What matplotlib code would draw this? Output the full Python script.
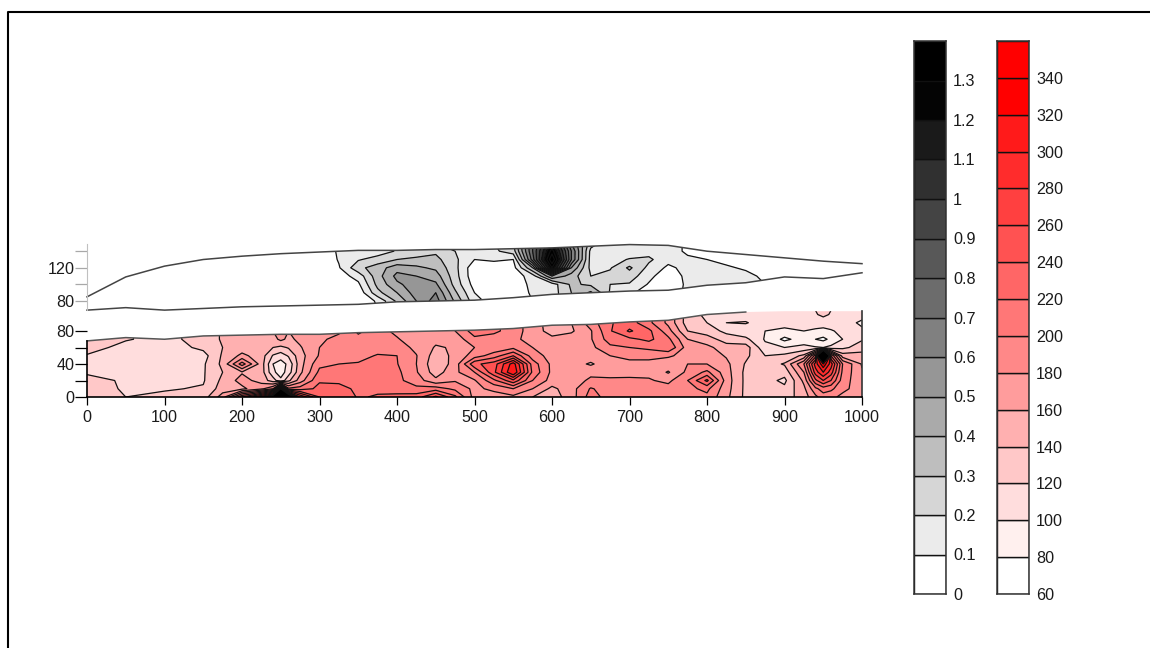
import numpy as np
import matplotlib
matplotlib.use("Agg")
import matplotlib.pyplot as plt
from matplotlib.lines import Line2D
from matplotlib.patches import Polygon

plt.rcParams['font.family'] = ['Liberation Sans', 'DejaVu Sans']

boundary_x = [0, 50, 100, 150, 200, 250, 300, 350, 400, 450, 500, 550, 600, 650, 700, 750, 800, 850, 900, 950, 1000]
lower_top_y = [68, 72, 70, 74, 75, 76, 76, 78, 79, 80, 81, 83, 87, 88, 91, 93, 100, 103, 104, 104, 104]
upper_top_y = [85, 109, 122, 130, 134, 137, 139, 141, 141, 142, 142, 143, 144, 146, 148, 147, 140, 136, 132, 128, 125]
upper_bottom_y = [69, 72, 69, 71, 73, 74, 75, 76, 79, 80, 81, 84, 88, 90, 92, 93, 99, 102, 109, 107, 114]

lower_stations = [0, 50, 100, 150, 175, 200, 225, 240, 250, 260, 275, 300, 325, 350, 375, 400, 425, 450, 475, 500, 525, 550,
                  575, 600, 625, 650, 675, 700, 725, 750, 775, 800, 825, 850, 875, 900, 925, 940, 950, 960, 975, 1000]
lower_rows = [0, 10, 20, 30, 40, 50, 60, 70, 80, 90, 100, 110]
lower_values = [
    [130, 128, 125, 118, 112, 118, 130, 142, 130, 130, 130, 130],
    [120, 118, 118, 112, 110, 108, 112, 122, 122, 122, 122, 122],
    [125, 118, 110, 108, 106, 106, 108, 112, 112, 112, 112, 112],
    [130, 122, 118, 118, 117, 112, 125, 130, 130, 130, 130, 130],
    [170, 150, 145, 140, 145, 143, 140, 142, 142, 142, 142, 142],
    [260, 155, 168, 158, 210, 165, 150, 150, 150, 150, 150, 150],
    [330, 175, 152, 150, 150, 150, 152, 155, 155, 155, 155, 155],
    [400, 200, 130, 105, 100, 118, 140, 152, 160, 160, 160, 160],
    [520, 360, 105, 90, 90, 110, 135, 165, 170, 170, 170, 170],
    [430, 205, 135, 110, 105, 122, 142, 155, 160, 160, 160, 160],
    [300, 210, 170, 155, 152, 152, 158, 165, 168, 168, 168, 168],
    [240, 225, 218, 205, 195, 182, 180, 175, 172, 172, 172, 172],
    [235, 228, 215, 208, 200, 195, 190, 188, 175, 175, 175, 175],
    [218, 215, 212, 210, 202, 192, 188, 192, 205, 205, 205, 205],
    [222, 216, 212, 212, 210, 202, 190, 188, 188, 188, 188, 188],
    [225, 212, 205, 205, 201, 200, 190, 182, 175, 175, 175, 175],
    [230, 205, 190, 182, 180, 181, 175, 168, 165, 165, 165, 165],
    [265, 210, 165, 150, 145, 150, 158, 165, 170, 170, 170, 170],
    [225, 195, 178, 175, 168, 165, 162, 168, 180, 180, 180, 180],
    [172, 175, 178, 200, 235, 190, 180, 195, 210, 210, 210, 210],
    [170, 185, 215, 255, 250, 210, 185, 190, 205, 205, 205, 205],
    [175, 200, 255, 320, 310, 240, 195, 185, 190, 190, 190, 190],
    [160, 180, 200, 215, 210, 190, 180, 172, 170, 170, 170, 170],
    [150, 155, 172, 175, 175, 172, 168, 165, 152, 150, 150, 150],
    [170, 172, 172, 170, 170, 170, 170, 170, 157, 160, 160, 160],
    [210, 202, 183, 176, 157, 172, 175, 178, 178, 190, 190, 190],
    [190, 190, 183, 174, 174, 180, 195, 210, 218, 218, 218, 218],
    [190, 190, 183, 175, 175, 185, 200, 215, 243, 230, 230, 230],
    [190, 190, 182, 175, 175, 185, 205, 225, 225, 205, 205, 205],
    [192, 188, 175, 158, 172, 182, 218, 205, 188, 175, 175, 175],
    [200, 195, 200, 185, 180, 175, 170, 160, 140, 130, 130, 130],
    [195, 205, 245, 205, 180, 172, 165, 150, 130, 120, 115, 115],
    [165, 168, 170, 168, 165, 158, 150, 130, 115, 120, 115, 115],
    [135, 135, 135, 135, 138, 145, 150, 125, 105, 122, 108, 108],
    [130, 128, 128, 128, 130, 120, 105, 98, 100, 107, 108, 108],
    [130, 125, 115, 128, 142, 125, 100, 75, 95, 108, 108, 108],
    [150, 155, 165, 180, 200, 145, 105, 90, 100, 108, 110, 110],
    [175, 195, 235, 270, 290, 230, 102, 80, 97, 108, 118, 122],
    [190, 210, 260, 300, 335, 900, 100, 75, 95, 108, 125, 130],
    [185, 205, 240, 270, 290, 240, 105, 85, 98, 110, 118, 122],
    [175, 185, 190, 195, 200, 150, 115, 100, 105, 112, 112, 112],
    [175, 170, 165, 162, 158, 148, 130, 118, 105, 95, 110, 110],
]
lower_levels = [60, 80, 100, 120, 140, 160, 180, 200, 220, 240, 260, 280, 300, 320, 340, 360]
lower_colors = ['#ffffff', '#fff0ee', '#ffdddd', '#ffc8c8', '#ffb0b0', '#ff9c9c', '#ff8888',
                '#ff7777', '#ff6666', '#ff5252', '#ff4040', '#ff2c2c', '#ff1a1a', '#ff0000', '#ff0000']
spike_color = '#000000'

upper_stations = [0, 300, 325, 350, 375, 400, 425, 450, 475, 500, 525, 550, 575, 600, 625, 650, 675, 700, 725, 750,
                  775, 800, 850, 900, 950, 1000]
upper_rows = [70, 80, 90, 100, 110, 120, 130, 140, 150]
upper_values = [
    [0, 0, 0, 0, 0, 0, 0, 0, 0],
    [0, 0, 0, 0, 0, 0, 0, 0, 0],
    [0, 0, 0, 0.02, 0.05, 0.09, 0.11, 0.12, 0.12],
    [0, 0, 0.03, 0.08, 0.14, 0.27, 0.19, 0.15, 0.15],
    [0.1, 0.12, 0.27, 0.33, 0.36, 0.35, 0.24, 0.15, 0.15],
    [0.3, 0.32, 0.4, 0.48, 0.53, 0.46, 0.3, 0.21, 0.2],
    [0.5, 0.5, 0.55, 0.55, 0.5, 0.42, 0.33, 0.22, 0.22],
    [0.65, 0.65, 0.6, 0.52, 0.45, 0.38, 0.33, 0.28, 0.2],
    [0.38, 0.38, 0.32, 0.26, 0.24, 0.23, 0.22, 0.2, 0.15],
    [0.14, 0.14, 0.1, 0.06, 0.03, 0.03, 0.1, 0.13, 0.13],
    [0.05, 0.05, 0.03, 0.02, 0.02, 0.03, 0.12, 0.18, 0.2],
    [0.02, 0.02, 0.02, 0.03, 0.04, 0.06, 0.1, 0.25, 0.3],
    [0.1, 0.1, 0.12, 0.13, 0.15, 0.4, 0.75, 0.8, 0.8],
    [0.13, 0.13, 0.15, 0.15, 0.5, 1.3, 1.5, 1.35, 1.2],
    [0.33, 0.33, 0.3, 0.32, 0.35, 0.5, 0.7, 0.7, 0.6],
    [0.42, 0.42, 0.42, 0.28, 0.2, 0.17, 0.16, 0.17, 0.25],
    [0.19, 0.19, 0.19, 0.2, 0.23, 0.19, 0.15, 0.13, 0.13],
    [0.12, 0.12, 0.12, 0.19, 0.25, 0.32, 0.21, 0.12, 0.1],
    [0.05, 0.05, 0.05, 0.09, 0.13, 0.17, 0.22, 0.16, 0.15],
    [0.05, 0.05, 0.05, 0.03, 0.03, 0.08, 0.13, 0.15, 0.15],
    [0.12, 0.12, 0.12, 0.12, 0.13, 0.13, 0.12, 0.08, 0.08],
    [0.15, 0.15, 0.13, 0.13, 0.14, 0.13, 0.1, 0.05, 0.05],
    [0.13, 0.13, 0.13, 0.13, 0.12, 0.09, 0.05, 0.03, 0.03],
    [0.12, 0.12, 0.12, 0.07, 0.05, 0.05, 0.08, 0.1, 0.1],
    [0.03, 0.03, 0.03, 0.03, 0.03, 0.03, 0.03, 0.03, 0.03],
    [0, 0, 0, 0, 0, 0, 0, 0, 0],
]
upper_levels = [0, 0.1, 0.2, 0.3, 0.4, 0.5, 0.6, 0.7, 0.8, 0.9, 1.0, 1.1, 1.2, 1.3, 1.4]
upper_colors = ['#ffffff', '#ebebeb', '#d6d6d6', '#bebebe', '#aaaaaa', '#969696', '#808080',
                '#6c6c6c', '#585858', '#444444', '#303030', '#1a1a1a', '#040404', '#000000']

gray_labels = ['0', '0.1', '0.2', '0.3', '0.4', '0.5', '0.6', '0.7', '0.8', '0.9', '1', '1.1', '1.2', '1.3']
x_ticks = [0, 100, 200, 300, 400, 500, 600, 700, 800, 900, 1000]

W, H = 1150, 648
fig = plt.figure(figsize=(W / 100, H / 100), dpi=100, facecolor='white')


def axes_px(left, top, right, bottom):
    return fig.add_axes([left / W, 1 - bottom / H, (right - left) / W, (bottom - top) / H])


TXT = '#1a1a1a'
FS = 11.6

fig.add_artist(Line2D([8 / W, 8 / W, 1], [0, 1 - 12 / H, 1 - 12 / H], color='black', lw=1.5))

# ---- lower section
ax = axes_px(87, 311, 862, 397)
ax.set_xlim(0, 1000)
ax.set_ylim(0, 86 / 0.825)
ax.patch.set_alpha(0)
Z = np.array(lower_values).T
cf = ax.contourf(lower_stations, lower_rows, Z, levels=lower_levels,
                 colors=lower_colors + [spike_color], extend='max')
cl = ax.contour(lower_stations, lower_rows, Z, levels=lower_levels[1:], colors='#111111', linewidths=0.9)
poly = Polygon(list(zip(boundary_x, lower_top_y)) + [(1000, 0), (0, 0)], closed=True,
               transform=ax.transData, fc='none', ec='none')
ax.add_patch(poly)
cf.set_clip_path(poly)
cl.set_clip_path(poly)
ax.plot(boundary_x[:18], lower_top_y[:18], color='#555555', lw=1.1, clip_on=False)
ax.plot([1000, 1000], [0, 104], color='#333333', lw=1.2, clip_on=False)
for s in ('top', 'right'):
    ax.spines[s].set_visible(False)
ax.spines['left'].set_bounds(0, 68)
ax.spines['left'].set_linewidth(1.2)
ax.spines['bottom'].set_linewidth(1.2)
ax.set_xticks(x_ticks)
ax.set_xticklabels([str(v) for v in x_ticks], fontsize=FS, color=TXT)
ax.tick_params(axis='x', length=6, width=0.9, pad=3)
ax.set_yticks([0, 20, 40, 60, 80])
ax.set_yticklabels(['0', '', '40', '', '80'], fontsize=FS, color=TXT)
ax.tick_params(axis='y', length=9, width=0.9, pad=0)

# ---- upper section
au = axes_px(87, 244, 862, 310)
au.set_xlim(0, 1000)
au.set_ylim(80 - 9 / 0.83, 80 + 57 / 0.83)
au.patch.set_alpha(0)
ZU = np.array(upper_values).T
cfu = au.contourf(upper_stations, upper_rows, ZU, levels=upper_levels, colors=upper_colors, extend='max')
clu = au.contour(upper_stations, upper_rows, ZU, levels=upper_levels[1:], colors='#111111', linewidths=0.9)
polyu = Polygon(list(zip(boundary_x, upper_top_y)) + list(zip(boundary_x[::-1], upper_bottom_y[::-1])),
                closed=True, transform=au.transData, fc='none', ec='none')
au.add_patch(polyu)
cfu.set_clip_path(polyu)
clu.set_clip_path(polyu)
au.plot(boundary_x, upper_top_y, color='#444444', lw=1.1, clip_on=False)
au.plot(boundary_x, upper_bottom_y, color='#444444', lw=1.1, clip_on=False)
au.plot([0, 0], [upper_bottom_y[0], upper_top_y[0]], color='#666666', lw=1.1)
for s in ('top', 'right', 'bottom'):
    au.spines[s].set_visible(False)
au.spines['left'].set_color('#c0c0c0')
au.set_xticks([])
au.set_yticks([80, 100, 120, 140])
au.set_yticklabels(['80', '', '120', ''], fontsize=FS, color=TXT)
au.tick_params(axis='y', length=9, width=0.9, color='#a8a8a8', pad=0)


def legend_bar(left, right, levels, colors, labels):
    a = axes_px(left, 41, right, 594)
    a.set_xlim(0, 1)
    a.set_ylim(levels[0], levels[-1])
    a.bar(0.5, np.diff(levels), width=1, bottom=levels[:-1], color=colors, edgecolor='#111111', linewidth=1.0)
    a.set_xticks([])
    a.yaxis.tick_right()
    a.set_yticks(levels[:-1])
    a.set_yticklabels(labels, fontsize=FS, color=TXT)
    a.tick_params(axis='y', length=0, pad=5)
    for sp in a.spines.values():
        sp.set_color('#333333')
        sp.set_linewidth(1.1)


legend_bar(914, 946, upper_levels, upper_colors, gray_labels)
legend_bar(997, 1029, lower_levels, lower_colors, [str(v) for v in lower_levels[:-1]])

fig.savefig('out.png', dpi=100)
